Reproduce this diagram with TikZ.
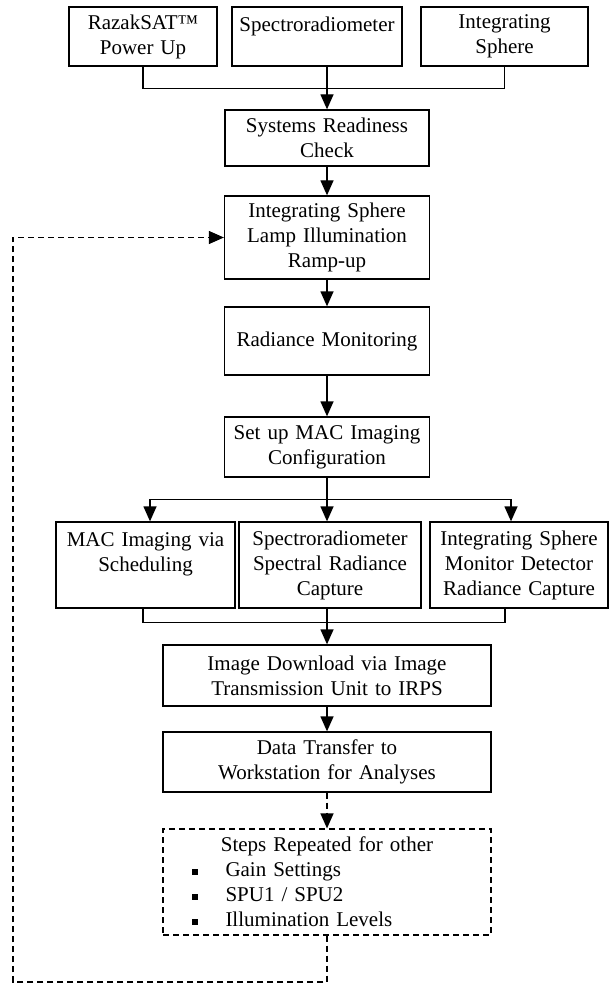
\documentclass[tikz,border=0pt]{standalone}
\usepackage{fontspec}
\setmainfont{Liberation Serif}
\usetikzlibrary{arrows.meta}

\newcommand{\sqbullet}{\rule[0.2ex]{5.5pt}{5.5pt}}

\begin{document}
\begin{tikzpicture}[x=1pt,y=-1pt]
	\tikzset{stage/.style={draw, line width=1.3pt, align=center, inner sep=0pt, font=\fontsize{21}{25}\selectfont},
		flow/.style={line width=1.3pt},
		tip/.style={-{Triangle[width=13pt,length=15pt]}},
		repeatline/.style={line width=1.2pt, dash pattern=on 6pt off 4pt}}
	\useasboundingbox (0,0) rectangle (609,984);
%% Boxes
	%start up
		\node[stage, minimum width=148pt, text width=140pt, minimum height=59pt] (razak) at (143,36.5) {RazakSAT™\\Power Up};
		\node[stage, minimum width=170pt, text width=162pt, minimum height=59pt] (spectro) at (317,36.5) {Spectroradiometer\\\mbox{}};
		\node[stage, minimum width=167pt, text width=159pt, minimum height=59pt] (sphere) at (504.5,36.5) {Integrating\\Sphere};
	%main column
		\node[stage, minimum width=204pt, text width=196pt, minimum height=56pt] (check) at (327,138) {Systems Readiness\\Check};
		\node[stage, minimum width=205pt, text width=197pt, minimum height=83pt] (ramp) at (327,237.5) {Integrating Sphere\\Lamp Illumination\\Ramp-up};
		\node[stage, minimum width=205pt, text width=197pt, minimum height=68pt] (monitor) at (327,341) {Radiance Monitoring};
		\node[stage, minimum width=205pt, text width=197pt, minimum height=60pt] (setup) at (327,447) {Set up MAC Imaging\\Configuration};
	%capture
		\node[stage, minimum width=179pt, text width=171pt, minimum height=86pt] (macimg) at (145.5,565) {MAC Imaging via\\Scheduling\\\mbox{}};
		\node[stage, minimum width=182pt, text width=176pt, minimum height=86pt] (specrad) at (330,565) {Spectroradiometer\\Spectral Radiance\\Capture};
		\node[stage, minimum width=178pt, text width=172pt, minimum height=86pt] (sphrad) at (519,565) {Integrating Sphere\\Monitor Detector\\Radiance Capture};
	%after capture
		\node[stage, minimum width=328pt, text width=320pt, minimum height=61pt] (download) at (327,675.5) {Image Download via Image\\Transmission Unit to IRPS};
		\node[stage, minimum width=328pt, text width=320pt, minimum height=60pt] (transfer) at (327,762) {Data Transfer to\\Workstation for Analyses};
		\node[stage, repeatline, minimum width=328pt, text width=328pt, minimum height=106pt, align=left] (repeat) at (327,882)
			{\makebox[328pt]{Steps Repeated for other}\\
			\hspace*{29pt}\sqbullet\hspace{28pt}Gain Settings\\
			\hspace*{29pt}\sqbullet\hspace{28pt}SPU1 / SPU2\\
			\hspace*{29pt}\sqbullet\hspace{28pt}Illumination Levels};
		\coordinate (loopcorner) at (13,982);
%Arrows
		\draw[flow] (razak.south) -- ++(0,22) -| (sphere.south);
		\draw[flow,tip] (check.north |- spectro.south) -- (check.north);
		\draw[flow,tip] (check.south) -- (ramp.north);
		\draw[flow,tip] (ramp.south) -- (monitor.north);
		\draw[flow,tip] (monitor.south) -- (setup.north);
		\draw[flow] (setup.south) -- ++(0,22) coordinate (fork);
		\draw[flow,tip] (fork) -| ([xshift=4.5pt]macimg.north);
		\draw[flow,tip] (fork) -- (fork |- specrad.north);
		\draw[flow,tip] (fork) -| ([xshift=-8pt]sphrad.north);
		\draw[flow] ([xshift=-2.5pt]macimg.south) -- ++(0,14) -| ([xshift=-14pt]sphrad.south);
		\draw[flow,tip] (download.north |- specrad.south) -- (download.north);
		\draw[flow,tip] (download.south) -- (transfer.north);
	%repeat loop
		\draw[repeatline,tip] (transfer.south) -- (repeat.north);
		\draw[repeatline,tip] (repeat.south) |- (loopcorner) |- (ramp.west);

\end{tikzpicture}
\end{document}
